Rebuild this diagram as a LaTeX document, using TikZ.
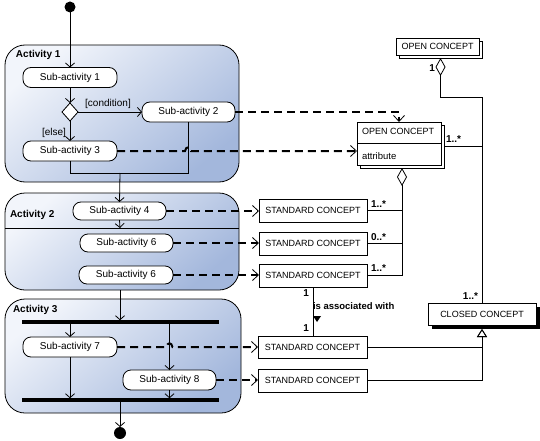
\documentclass[tikz,border=0pt]{standalone}
\usepackage{fontspec}
\setmainfont{Liberation Sans}
\usetikzlibrary{arrows.meta,shapes.geometric}
\definecolor{actlight}{HTML}{F2F5FB}
\definecolor{actdark}{HTML}{A3B7DC}
\begin{document}
\begin{tikzpicture}[x=1pt,y=-1pt,line width=0.8pt,
  every node/.style={inner sep=0pt,outer sep=0pt},
  actbox/.style={draw,rounded corners=20pt,top color=actlight,bottom color=actdark,shading angle=40},
  actlabel/.style={font=\bfseries\fontsize{10}{12}\selectfont,anchor=west},
  sub/.style={draw,fill=white,rounded corners=8pt,minimum width=94pt,minimum height=20pt,font=\fontsize{10}{12}\selectfont},
  concept/.style={draw,fill=white,font=\fontsize{9}{11}\selectfont},
  guard/.style={font=\fontsize{10}{12}\selectfont},
  mult/.style={font=\bfseries\fontsize{10}{12}\selectfont},
  bar/.style={fill=black,minimum width=197pt,minimum height=3.5pt},
  flow/.style={-{Straight Barb[length=4pt,width=9pt]}},
  dep/.style={line width=2pt,dash pattern=on 8pt off 5pt,-{Straight Barb[length=6pt,width=11pt,line width=0.8pt]}},
  agg/.style={{Diamond[open,length=18pt,width=10pt]}-},
  gen/.style={-{Triangle[open,length=8pt,width=10pt]}}]
\useasboundingbox (0,0) rectangle (540,441);

% ---------- activity containers ----------
\node[actbox,minimum width=234pt,minimum height=137pt] (act1) at (122,113.5) {};
\node[actlabel] (act1l) at (16,55) {Activity 1};
\node[actbox,minimum width=234pt,minimum height=97pt] (act2) at (122,241.5) {};
\node[actlabel] (act2l) at (10,215) {Activity 2};
\node[actbox,minimum width=236pt,minimum height=114pt] (act3) at (123,356) {};
\node[actlabel] (act3l) at (13,310) {Activity 3};

% ---------- activity 1 ----------
\node[circle,fill=black,minimum size=11pt] (start) at (70,7) {};
\node[sub] (sub1) at (70,77.5) {Sub-activity 1};
\node[draw,fill=white,diamond,minimum width=16pt,minimum height=18pt] (dec) at (70,112) {};
\node[sub,minimum width=93pt] (sub2) at (188.5,112) {Sub-activity 2};
\node[sub] (sub3) at (70,151) {Sub-activity 3};
\node[guard] (cond) at (108,104) {[condition]};
\node[guard] (else) at (54,133) {[else]};
\coordinate (m1) at (70,173);
\coordinate (m2) at (120,173);

% ---------- activity 2 ----------
\node[sub,minimum width=93pt,minimum height=18pt] (sub4) at (119.5,211) {Sub-activity 4};
\coordinate (d2) at (120,228);
\draw (d2 -| act2.west) -- (d2 -| act2.east);
\node[sub,minimum width=93pt,minimum height=18pt] (sub6a) at (126.5,243) {Sub-activity 6};
\node[sub,minimum height=18pt] (sub6b) at (126,275) {Sub-activity 6};
\coordinate (a2b) at (120,290);

% ---------- activity 3 ----------
\node[bar] (fork) at (120.5,322) {};
\node[bar] (join) at (120.5,400) {};
\node[sub] (sub7) at (70,347) {Sub-activity 7};
\node[sub,minimum width=93pt] (sub8) at (169.5,380) {Sub-activity 8};
\node[circle,fill=black,minimum size=12pt] (end) at (120,433) {};

% ---------- control flow ----------
\draw[flow] (start.south) -- (sub1.north);
\draw[flow] (sub1.south) -- (dec.north);
\draw[flow] (dec.east) -- (dec.east -| sub2.west);
\draw[flow] (dec.south) -- (sub3.north);
\draw (sub3.south) -- (m1) -- (m2);
\draw (sub2.south) |- (m2);
\draw[flow] (m2) -- (sub4.north);
\draw[flow] (sub4.south) -- (d2);
\draw[flow] (a2b) -- (a2b |- fork.north);
\draw[flow] (fork.south -| sub7) -- (sub7.north);
\draw[flow] (fork.south -| sub8) -- (sub8.north);
\draw[flow] (sub7.south) -- (sub7.south |- join.north);
\draw[flow] (sub8.south) -- (sub8.south |- join.north);
\draw[flow] (join.south -| end) -- (end.north);

% ---------- concepts ----------
\node[concept,minimum width=83pt,minimum height=17pt] (ocTopB) at (440.5,49.5) {};
\node[concept,minimum width=83pt,minimum height=17pt] (ocTop) at (437.5,46.5) {OPEN CONCEPT};
\node[concept,minimum width=84pt,minimum height=43pt] (ocMidB) at (402,146.5) {};
\node[concept,minimum width=84pt,minimum height=43pt] (ocMid) at (399,143.5) {};
\node[font=\fontsize{9}{11}\selectfont,anchor=west] (ocName) at (362,131) {OPEN CONCEPT};
\node[font=\fontsize{9.5}{11}\selectfont,anchor=west] (ocAttr) at (362,156) {attribute};
\coordinate (ocdiv) at (399,143);
\draw (ocdiv -| ocMid.west) -- (ocdiv -| ocMid.east);

\node[concept,minimum width=108pt,minimum height=23pt] (sc1) at (313,210.5) {STANDARD CONCEPT};
\node[concept,minimum width=108pt,minimum height=23pt] (sc2) at (313,243.5) {STANDARD CONCEPT};
\node[concept,minimum width=108pt,minimum height=23pt] (sc3) at (313,275.5) {STANDARD CONCEPT};
\node[concept,minimum width=109pt,minimum height=22pt] (sc4) at (312.5,347) {STANDARD CONCEPT};
\node[concept,minimum width=109pt,minimum height=23pt] (sc5) at (312.5,380.5) {STANDARD CONCEPT};

\node[fill=black,minimum width=108pt,minimum height=22pt] (closedS) at (486,318) {};
\node[concept,minimum width=108pt,minimum height=22pt] (closed) at (482,314) {CLOSED CONCEPT};
\coordinate (gt) at (482,329);
\coordinate (agg1) at (440.5,97);

% ---------- dependencies ----------
\draw[dep] (sub2.east) -| (ocMid.north);
\coordinate (h1a) at (185,151);
\coordinate (h1b) at (191,151);
\draw[dep] (sub3.east) -- (h1a) .. controls +(1,-5) and +(-1,-5) .. (h1b) -- (sub3.east -| ocMid.west);
\draw[dep] (sub4.east) -- (sub4.east -| sc1.west);
\draw[dep] (sub6a.east) -- (sub6a.east -| sc2.west);
\draw[dep] (sub6b.east) -- (sub6b.east -| sc3.west);
\coordinate (h2a) at (166.5,347);
\coordinate (h2b) at (172.5,347);
\draw[dep] (sub7.east) -- (h2a) .. controls +(1,-5) and +(-1,-5) .. (h2b) -- (sub7.east -| sc4.west);
\draw[dep] (sub8.east) -- (sub8.east -| sc5.west);

% ---------- associations ----------
\draw[agg] (ocTopB.south) -- (agg1) -| (closed.north);
\node[mult,anchor=east] (mTop) at (435,68) {1};
\draw (ocMidB.east) -- (ocMidB.east -| closed.north);
\node[mult,anchor=west] (mMid) at (446,139) {1..*};
\draw[agg] (ocMidB.south) -- (ocMidB.south |- sc3.east);
\draw (sc1.east) -- (sc1.east -| ocMidB.south);
\draw (sc2.east) -- (sc2.east -| ocMidB.south);
\draw (sc3.east) -- (sc3.east -| ocMidB.south);
\node[mult,anchor=west] (m1l) at (371,204) {1..*};
\node[mult,anchor=west] (m2l) at (371,237) {0..*};
\node[mult,anchor=west] (m3l) at (371,268) {1..*};
\node[mult,anchor=east] (mCl) at (478,296) {1..*};

\draw (sc3.south) -- (sc3.south |- sc4.north);
\node[mult,anchor=east] (a1) at (309,293) {1};
\node[mult,anchor=east] (a2) at (309,328) {1};
\node[font=\bfseries\fontsize{9.5}{11}\selectfont,anchor=west] (assoc) at (313,306) {is associated with};
\fill (313,316) -- (321,316) -- (317,322) -- cycle;

\draw[gen] (sc4.east) -| (gt);
\draw[gen] (sc5.east) -| (gt);
\end{tikzpicture}
\end{document}
